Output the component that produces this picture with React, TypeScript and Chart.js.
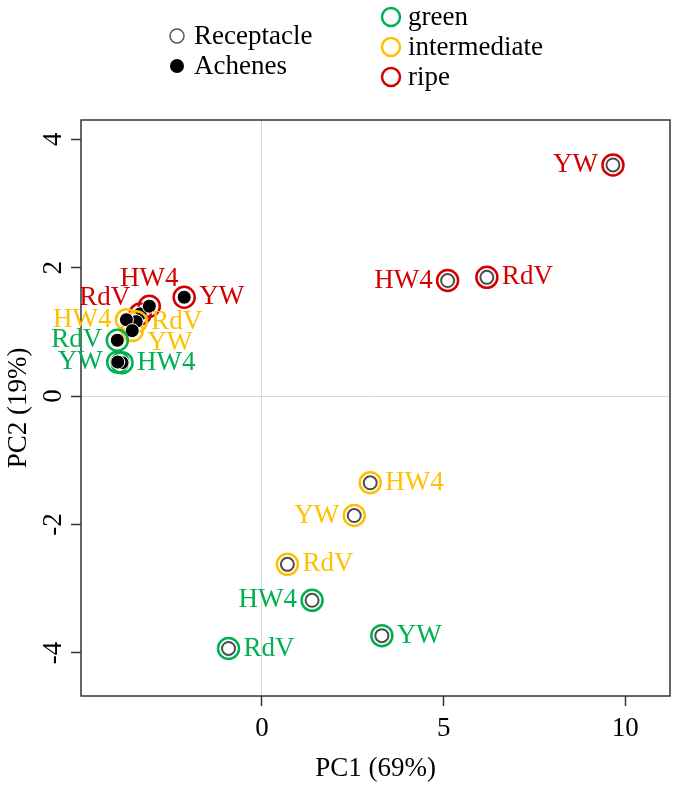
import { useEffect, useRef } from 'react';
import { Chart, registerables } from 'chart.js';
Chart.register(...registerables);

// ---- data (order within each group: RdV, HW4, YW) ----
const varieties = ['RdV', 'HW4', 'YW'];
const stageNames = ['green', 'intermediate', 'ripe'];
const stageColors = ['#00b050', '#ffc000', '#d40000'];

const recGreenPC1 = [-0.92, 1.38, 3.30];
const recGreenPC2 = [-3.93, -3.18, -3.73];
const recGreenPos = ['right', 'left', 'right'];

const recInterPC1 = [0.70, 2.98, 2.54];
const recInterPC2 = [-2.62, -1.35, -1.86];
const recInterPos = ['right', 'right', 'left'];

const recRipePC1 = [6.19, 5.11, 9.66];
const recRipePC2 = [1.85, 1.80, 3.60];
const recRipePos = ['right', 'left', 'left'];

const achGreenPC1 = [-3.98, -3.85, -3.97];
const achGreenPC2 = [0.87, 0.52, 0.53];
const achGreenPos = ['left', 'right', 'left'];

const achInterPC1 = [-3.46, -3.73, -3.57];
const achInterPC2 = [1.16, 1.19, 1.02];
const achInterPos = ['right', 'left', 'downright'];

const achRipePC1 = [-3.35, -3.1, -2.14];
const achRipePC2 = [1.28, 1.40, 1.54];
const achRipePos = ['upleft', 'above', 'right'];

const xTicks = [0, 5, 10];
const yTicks = [-4, -2, 0, 2, 4];
const xTitle = 'PC1 (69%)';
const yTitle = 'PC2 (19%)';
const tissueNames = ['Receptacle', 'Achenes'];

const FONT = "'Liberation Serif', 'Times New Roman', serif";
const FS = 27;

function pts(xs: number[], ys: number[]) {
  return xs.map((x, i) => ({ x, y: ys[i] }));
}

export default function App() {
  const ref = useRef<HTMLCanvasElement | null>(null);

  useEffect(() => {
    document.body.style.margin = '0';
    const canvas = ref.current;
    if (!canvas) return;

    const groups = [
      { tissue: 0, stage: 0, data: pts(recGreenPC1, recGreenPC2), pos: recGreenPos },
      { tissue: 0, stage: 1, data: pts(recInterPC1, recInterPC2), pos: recInterPos },
      { tissue: 0, stage: 2, data: pts(recRipePC1, recRipePC2), pos: recRipePos },
      { tissue: 1, stage: 0, data: pts(achGreenPC1, achGreenPC2), pos: achGreenPos },
      { tissue: 1, stage: 1, data: pts(achInterPC1, achInterPC2), pos: achInterPos },
      { tissue: 1, stage: 2, data: pts(achRipePC1, achRipePC2), pos: achRipePos },
    ];

    const datasets: any[] = [];
    groups.forEach((g, gi) => {
      datasets.push({
        label: tissueNames[g.tissue] + ' ' + stageNames[g.stage],
        data: g.data,
        pointRadius: g.tissue === 0 ? 6.5 : 7,
        pointBackgroundColor: g.tissue === 0 ? '#ffffff' : '#000000',
        pointBorderColor: g.tissue === 0 ? '#4d4d4d' : '#ffffff',
        pointBorderWidth: g.tissue === 0 ? 2 : 1,
        order: 2 * gi,
        _labels: true,
        _pos: g.pos,
        _color: stageColors[g.stage],
      });
      datasets.push({
        label: stageNames[g.stage] + ' ring ' + gi,
        data: g.data,
        pointRadius: 10.5,
        pointBackgroundColor: 'rgba(0,0,0,0)',
        pointBorderColor: stageColors[g.stage],
        pointBorderWidth: 2.5,
        order: 2 * gi + 1,
      });
    });

    const boxPlugin = {
      id: 'box',
      afterDatasetsDraw(chart: any) {
        const { ctx, chartArea: a } = chart;
        ctx.save();
        ctx.strokeStyle = '#333333';
        ctx.lineWidth = 1.5;
        ctx.strokeRect(a.left, a.top, a.right - a.left, a.bottom - a.top);
        ctx.restore();
      },
    };

    const labelPlugin = {
      id: 'pointLabels',
      afterDatasetsDraw(chart: any) {
        const { ctx } = chart;
        ctx.save();
        ctx.font = FS + 'px ' + FONT;
        ctx.textBaseline = 'middle';
        chart.data.datasets.forEach((ds: any, di: number) => {
          if (!ds._labels) return;
          const meta = chart.getDatasetMeta(di);
          meta.data.forEach((el: any, i: number) => {
            const p = ds._pos[i];
            let dx = 0, dy = 0, align: CanvasTextAlign = 'left';
            if (p === 'right') { dx = 15; align = 'left'; }
            else if (p === 'left') { dx = -15; align = 'right'; }
            else if (p === 'above') { dy = -27; align = 'center'; }
            else if (p === 'upleft') { dx = -10; dy = -16; align = 'right'; }
            else if (p === 'downright') { dx = 15; dy = 12; align = 'left'; }
            ctx.textAlign = align;
            ctx.fillStyle = ds._color;
            ctx.fillText(varieties[i], el.x + dx, el.y + dy);
          });
        });
        ctx.restore();
      },
    };

    const legendPlugin = {
      id: 'customLegend',
      afterDraw(chart: any) {
        const { ctx } = chart;
        ctx.save();
        ctx.font = FS + 'px ' + FONT;
        ctx.textBaseline = 'middle';
        ctx.textAlign = 'left';
        const lx = 177, ly = [36, 66];
        tissueNames.forEach((t, i) => {
          ctx.beginPath();
          ctx.arc(lx, ly[i], 7, 0, Math.PI * 2);
          if (i === 0) {
            ctx.fillStyle = '#ffffff';
            ctx.fill();
            ctx.lineWidth = 1.5;
            ctx.strokeStyle = '#555555';
            ctx.stroke();
          } else {
            ctx.fillStyle = '#000000';
            ctx.fill();
          }
          ctx.fillStyle = '#000000';
          ctx.fillText(t, lx + 17, ly[i] + 1);
        });
        const sx = 391, sy = [17, 47, 77];
        stageNames.forEach((s, i) => {
          ctx.beginPath();
          ctx.arc(sx, sy[i], 9, 0, Math.PI * 2);
          ctx.lineWidth = 2.5;
          ctx.strokeStyle = stageColors[i];
          ctx.stroke();
          ctx.fillStyle = '#000000';
          ctx.fillText(s, sx + 17, sy[i] + 1);
        });
        ctx.restore();
      },
    };

    const gridColor = (c: any) => (c.tick && c.tick.value === 0 ? '#d9d9d9' : 'rgba(0,0,0,0)');

    const chart = new Chart(canvas, {
      type: 'scatter',
      data: { datasets },
      plugins: [boxPlugin, labelPlugin, legendPlugin],
      options: {
        animation: false,
        responsive: false,
        layout: { autoPadding: false, padding: { top: 120, right: 5, left: 0, bottom: 0 } },
        plugins: { legend: { display: false }, tooltip: { enabled: false } },
        scales: {
          x: {
            type: 'linear',
            min: -4.98,
            max: 11.23,
            afterBuildTicks: (axis: any) => { axis.ticks = xTicks.map((v) => ({ value: v })); },
            afterFit: (s: any) => { s.height = 91; },
            border: { display: false },
            grid: { color: gridColor, lineWidth: 1, tickColor: '#333333', tickLength: 10, tickWidth: 1.5 },
            ticks: { font: { family: FONT, size: FS }, color: '#000000', padding: 7, maxRotation: 0, autoSkip: false },
            title: { display: true, text: xTitle, font: { family: FONT, size: FS }, color: '#000000', padding: { top: 0, bottom: 2 } },
          },
          y: {
            type: 'linear',
            min: -4.67,
            max: 4.30,
            afterBuildTicks: (axis: any) => { axis.ticks = yTicks.map((v) => ({ value: v })); },
            afterFit: (s: any) => { s.width = 81; },
            border: { display: false },
            grid: { color: gridColor, lineWidth: 1, tickColor: '#333333', tickLength: 10, tickWidth: 1.5 },
            ticks: { font: { family: FONT, size: FS }, color: '#000000', padding: 6, minRotation: 90, maxRotation: 90, crossAlign: 'center', autoSkip: false },
            title: { display: true, text: yTitle, font: { family: FONT, size: FS }, color: '#000000', padding: { top: 3, bottom: 0 } },
          },
        },
      } as any,
    });

    return () => chart.destroy();
  }, []);

  return <canvas ref={ref} width={675} height={787} style={{ display: 'block' }} />;
}
